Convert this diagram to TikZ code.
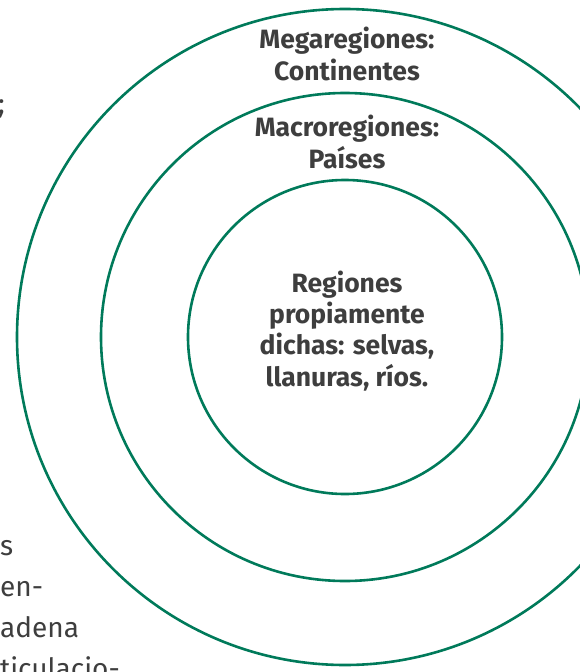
\documentclass[tikz,border=0pt]{standalone}
\usepackage{fontspec}
\setmainfont{Fira Sans}
\definecolor{ringgreen}{RGB}{0,122,90}
\definecolor{txtgray}{RGB}{62,62,62}
\begin{document}
\begin{tikzpicture}[x=1pt,y=-1pt,
  ring/.style={draw=ringgreen, line width=2.6pt, circle, inner sep=0pt},
  lbl/.style={font=\fontsize{26.5}{31.3}\selectfont\bfseries, text=txtgray, align=center, inner sep=0pt},
  body/.style={font=\fontsize{28}{41}\selectfont, text=txtgray, inner sep=0pt, align=left}]
\useasboundingbox (0,0) rectangle (580,672);
\clip (0,0) rectangle (580,672);
\coordinate (c) at (345,337);
\node[ring, minimum size=656pt] (outer) at (c) {};
\node[ring, minimum size=488pt] (middle) at (c) {};
\node[ring, minimum size=314pt] (inner) at (c) {};
\node[lbl, anchor=base] (mega) at (347,80) {Megaregiones:\\Continentes};
\node[lbl, anchor=base] (macro) at (347,168) {Macroregiones:\\Países};
\node[lbl, anchor=base] (reg) at (347,386) {Regiones\\propiamente\\dichas: selvas,\\llanuras, ríos.};
\node[body, anchor=base east] (semi) at (5,113) {;};
\node[body, anchor=base west] (frag) at (0,678) {s\\en-\\adena\\ticulacio-};
\end{tikzpicture}
\end{document}
